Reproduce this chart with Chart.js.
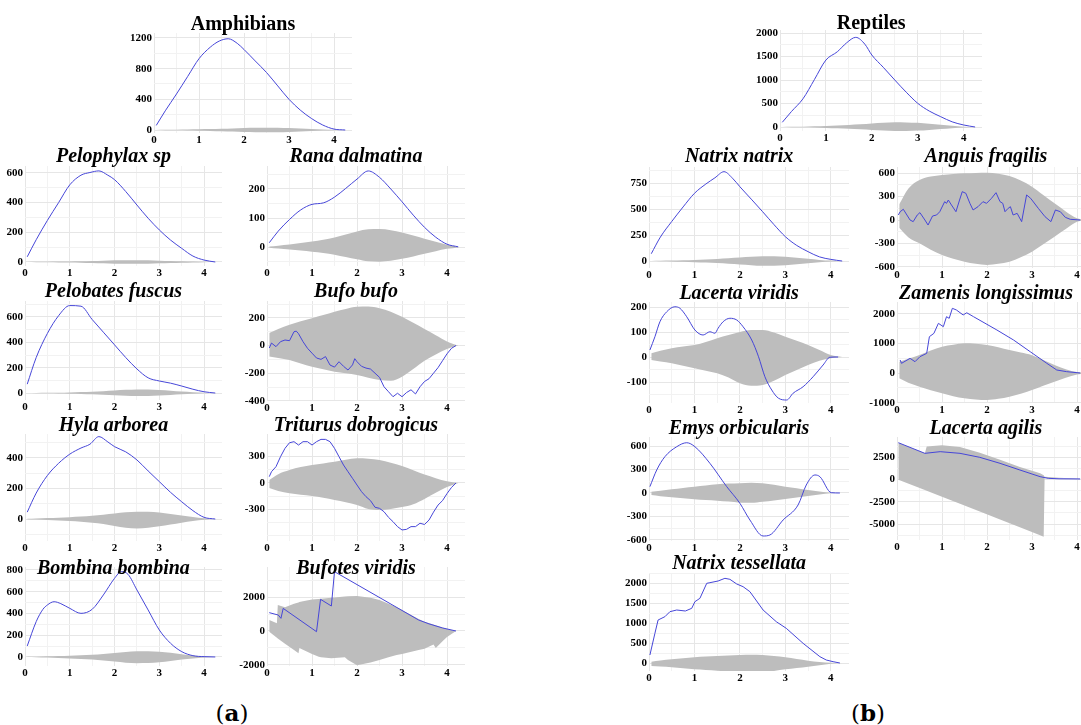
<!DOCTYPE html>
<html>
<head>
<meta charset="utf-8">
<script src="https://cdn.jsdelivr.net/npm/chart.js@4.4.1/dist/chart.umd.min.js"></script>
<style>
  html, body { margin: 0; padding: 0; background: #fff; overflow: hidden; }
  #fig { position: relative; width: 1081px; height: 725px; overflow: hidden; background: #fff; }
  #fig canvas { position: absolute; }
  .ptitle {
    position: absolute; text-align: center; white-space: nowrap; color: #000;
    font-family: "Liberation Serif", "Times New Roman", serif;
    font-weight: bold; font-style: italic; font-size: 20px; line-height: 24px;
  }
  .ptitle.group { font-style: normal; }
  .sublabel {
    position: absolute; width: 80px; text-align: center; color: #000;
    font-family: "DejaVu Serif", serif; font-size: 23px; line-height: 26px;
  }
</style>
</head>
<body>
<div id="fig"></div>
<script>
// sample grids (distance)
const xGrid = [0.05, 0.25, 0.5, 0.75, 1, 1.25, 1.5, 1.75, 2, 2.25, 2.5, 2.75, 3, 3.25, 3.5, 3.75, 4, 4.25];
const xPeak = [0.05, 0.25, 0.5, 0.75, 1, 1.25, 1.45, 1.65, 1.85, 2, 2.25, 2.5, 2.75, 3, 3.25, 3.5, 3.75, 4, 4.25];

// ---- Amphibians ----
const amphTicks = [0, 400, 800, 1200];
const amphLine = [60, 250, 470, 700, 930, 1080, 1160, 1190, 1130, 1050, 900, 750, 575, 400, 260, 150, 65, 12, 0];
const amphHi = [0, 2, 4, 7, 10, 13, 17, 21, 25, 28, 30, 29, 25, 19, 13, 7, 2, 0];
const amphLo = [0, -2, -4, -7, -10, -13, -17, -21, -25, -28, -30, -29, -25, -19, -13, -7, -2, 0];

const pelTicks = [0, 200, 400, 600];
const pelLine = [35, 150, 280, 400, 520, 585, 603, 614, 585, 555, 475, 384, 295, 216, 148, 92, 40, 13, 0];
const pelHi = [0, 1, 2, 3, 4, 5, 7, 9, 11, 12, 12, 11, 9, 7, 5, 3, 1, 0];
const pelLo = [0, -1, -2, -3, -4, -5, -7, -9, -11, -12, -12, -11, -9, -7, -5, -3, -1, 0];

const ranaTicks = [0, 100, 200];
const ranaLine = [15, 55, 95, 128, 147, 152, 172, 202, 234, 262, 240, 200, 156, 110, 68, 34, 10, 1];
const ranaHi = [2, 5, 9, 14, 19, 25, 33, 43, 54, 61, 62, 58, 50, 40, 29, 18, 8, 1];
const ranaLo = [-2, -5, -8, -12, -16, -20, -26, -34, -42, -49, -50, -47, -40, -32, -23, -14, -6, -1];

const pfTicks = [0, 200, 400, 600];
const pfLine = [70, 280, 470, 610, 690, 685, 580, 480, 380, 280, 190, 120, 95, 78, 55, 30, 10, 0];
const pfHi = [0, 1, 2, 3, 5, 8, 11, 15, 20, 25, 28, 28, 24, 18, 12, 7, 3, 0];
const pfLo = [0, -1, -2, -3, -5, -7, -10, -13, -17, -21, -23, -23, -20, -15, -10, -6, -2, 0];

const bufoTicks = [-400, -200, 0, 200];
const bufoLineX = [0.05, 0.1, 0.2, 0.3, 0.4, 0.5, 0.6, 0.65, 0.7, 0.8, 0.9, 1.0, 1.1, 1.2, 1.3, 1.4, 1.5, 1.6, 1.7, 1.8, 1.9, 1.95, 2.0, 2.1, 2.2, 2.3, 2.4, 2.5, 2.6, 2.7, 2.8, 2.9, 3.0, 3.1, 3.2, 3.3, 3.4, 3.5, 3.6, 3.7, 3.8, 3.9, 4.0, 4.1, 4.2];
const bufoLineY = [-18, 18, -8, 28, 40, 35, 100, 104, 86, 28, -20, -55, -90, -100, -80, -141, -156, -117, -150, -177, -140, -95, -117, -150, -163, -170, -200, -230, -298, -334, -370, -345, -370, -340, -320, -350, -298, -260, -240, -200, -160, -110, -60, -20, 0];
const bufoHi = [90, 120, 150, 175, 198, 220, 245, 265, 280, 282, 270, 245, 208, 165, 120, 75, 30, 0];
const bufoLo = [-80, -90, -105, -130, -153, -172, -189, -200, -213, -232, -250, -255, -225, -170, -110, -65, -25, 0];

const hylaTicks = [0, 200, 400];
const hylaLine = [45, 170, 285, 365, 425, 465, 490, 540, 505, 474, 440, 387, 315, 245, 175, 113, 55, 11, 0];
const hylaHi = [1, 3, 6, 9, 12, 16, 21, 28, 36, 44, 48, 47, 42, 33, 23, 13, 5, 0];
const hylaLo = [-1, -3, -6, -9, -13, -18, -24, -32, -45, -58, -62, -58, -48, -36, -24, -13, -5, 0];

const tritTicks = [-300, 0, 300];
const tritLineX = [0.05, 0.1, 0.2, 0.3, 0.4, 0.5, 0.6, 0.7, 0.8, 0.9, 1.0, 1.1, 1.2, 1.3, 1.4, 1.5, 1.6, 1.7, 1.8, 1.9, 2.0, 2.1, 2.2, 2.3, 2.4, 2.5, 2.6, 2.7, 2.8, 2.9, 3.0, 3.1, 3.2, 3.3, 3.4, 3.5, 3.6, 3.7, 3.8, 3.9, 4.0, 4.1, 4.2];
const tritLineY = [72, 128, 185, 298, 393, 456, 468, 430, 468, 468, 430, 468, 494, 494, 468, 393, 298, 204, 128, 53, -23, -98, -155, -200, -275, -287, -325, -389, -438, -494, -532, -525, -494, -494, -456, -470, -420, -330, -250, -200, -120, -50, 0];
const tritHi = [34, 100, 147, 180, 204, 222, 241, 262, 279, 275, 260, 230, 192, 145, 95, 55, 20, 0];
const tritLo = [-57, -90, -117, -133, -147, -168, -192, -218, -249, -294, -306, -295, -273, -240, -180, -110, -45, 0];

const bombTicks = [0, 200, 400, 600, 800];
const bombLineX = [0.05, 0.25, 0.4, 0.5, 0.65, 0.8, 1.0, 1.25, 1.5, 1.75, 2.0, 2.15, 2.3, 2.5, 2.75, 3.0, 3.25, 3.5, 3.75, 4.0, 4.25];
const bombLineY = [101, 325, 438, 478, 508, 490, 447, 401, 438, 570, 723, 784, 760, 616, 432, 248, 126, 49, 12, 3, 0];
const bombHi = [1, 3, 6, 9, 12, 16, 21, 28, 36, 45, 52, 53, 48, 38, 26, 14, 5, 0];
const bombLo = [-1, -3, -6, -9, -13, -18, -24, -32, -42, -52, -57, -56, -48, -36, -24, -13, -5, 0];

const bvTicks = [-2000, 0, 2000];
const bvLineX = [0.05, 0.25, 0.31, 0.36, 1.1, 1.19, 1.43, 1.5, 3.37, 3.6, 3.9, 4.2];
const bvLineY = [1080, 940, 745, 1330, -40, 1863, 1470, 3490, 647, 420, 180, 0];
const bvEnvX = [0.05, 0.22, 0.24, 0.4, 0.6, 0.7, 0.72, 0.8, 1.0, 1.15, 1.2, 1.43, 1.5, 1.73, 1.8, 2.0, 2.3, 2.5, 2.7, 2.88, 3.0, 3.37, 3.5, 3.7, 3.75, 3.9, 4.0, 4.2];
const bvHi = [650, 450, 1530, 1400, 1600, 1680, 1700, 1750, 1850, 1880, 1900, 1960, 1970, 2030, 2040, 2060, 1950, 1820, 1600, 1400, 1235, 700, 550, 380, 340, 200, 120, 0];
const bvLo = [-50, -400, -440, -750, -1120, -1314, -1000, -1100, -1350, -1510, -1540, -1608, -1590, -1550, -1700, -2020, -1860, -1700, -1550, -1410, -1350, -1118, -1050, -800, -1000, -600, -350, 0];

// ---- Reptiles ----
const reptTicks = [0, 500, 1000, 1500, 2000];
const reptLine = [100, 330, 600, 1010, 1425, 1602, 1790, 1908, 1760, 1532, 1270, 1000, 740, 504, 340, 220, 110, 43, 0];
const reptHi = [0, 3, 8, 14, 22, 32, 44, 58, 74, 90, 100, 98, 88, 70, 48, 26, 8, 0];
const reptLo = [0, -3, -7, -12, -19, -27, -37, -49, -62, -75, -85, -85, -77, -62, -43, -24, -8, 0];

const nnTicks = [0, 250, 500, 750];
const nnLine = [70, 230, 380, 520, 651, 740, 800, 859, 790, 714, 595, 474, 350, 234, 150, 90, 40, 16, 0];
const nnHi = [0, 2, 4, 7, 11, 15, 20, 26, 33, 40, 46, 45, 40, 31, 21, 11, 4, 0];
const nnLo = [0, -2, -4, -7, -11, -15, -20, -26, -33, -40, -46, -45, -40, -31, -21, -11, -4, 0];

const agTicks = [-600, -300, 0, 300, 600];
const agLineX = [0.03, 0.07, 0.14, 0.29, 0.36, 0.45, 0.51, 0.62, 0.69, 0.79, 0.88, 0.95, 1.06, 1.1, 1.14, 1.21, 1.31, 1.39, 1.45, 1.53, 1.62, 1.69, 1.8, 1.91, 1.99, 2.1, 2.2, 2.29, 2.35, 2.4, 2.47, 2.52, 2.58, 2.67, 2.77, 2.88, 2.97, 3.14, 3.29, 3.42, 3.52, 3.63, 3.74, 3.85, 4.07];
const agLineY = [64, 106, 137, 0, -21, 64, 94, 0, -64, 51, 64, 106, 234, 213, 255, 192, 106, 255, 362, 341, 213, 128, 170, 234, 213, 277, 349, 234, 213, 106, 149, 170, 64, 85, -21, 320, 277, 149, 42, -21, 128, 106, 34, 9, 0];
const agHi = [200, 400, 511, 555, 575, 588, 596, 600, 604, 590, 562, 505, 426, 320, 213, 110, 22, 0];
const agLo = [-100, -220, -298, -380, -447, -495, -532, -560, -575, -560, -532, -475, -404, -310, -213, -115, -22, 0];

const lvTicks = [-100, 0, 100, 200];
const lvLineX = [0.02, 0.13, 0.24, 0.39, 0.57, 0.68, 0.83, 1.01, 1.19, 1.34, 1.45, 1.52, 1.63, 1.78, 1.93, 2.07, 2.26, 2.41, 2.55, 2.7, 2.85, 3.03, 3.17, 3.39, 3.61, 3.83, 3.98, 4.16];
const lvLineY = [28, 81, 141, 181, 201, 195, 161, 108, 88, 101, 95, 115, 141, 155, 148, 121, 68, 1, -79, -132, -165, -172, -145, -119, -79, -32, -1, 0];
const lvHi = [15, 25, 35, 42, 48, 60, 75, 88, 100, 108, 108, 98, 81, 65, 48, 28, 8, 0];
const lvLo = [-12, -18, -25, -35, -45, -55, -65, -82, -105, -115, -112, -95, -72, -52, -32, -15, -5, 0];

const zmTicks = [-1000, 0, 1000, 2000];
const zmLineX = [0.07, 0.1, 0.29, 0.4, 0.51, 0.66, 0.72, 0.82, 0.92, 1.03, 1.1, 1.16, 1.23, 1.32, 1.47, 1.55, 1.7, 2.22, 2.59, 2.96, 3.33, 3.55, 3.77, 4.07];
const zmLineY = [438, 326, 494, 381, 550, 663, 1224, 1336, 1674, 1561, 1898, 1842, 2180, 2124, 1955, 2030, 1898, 1449, 1112, 718, 326, 101, 45, 0];
const zmHi = [381, 480, 607, 760, 888, 950, 1000, 990, 944, 870, 775, 690, 600, 440, 270, 130, 30, 0];
const zmLo = [-180, -330, -461, -580, -685, -780, -853, -890, -910, -870, -798, -700, -573, -430, -292, -160, -50, 0];

const emTicks = [-600, -300, 0, 300, 600];
const emLineX = [0.02, 0.17, 0.35, 0.61, 0.83, 1.01, 1.34, 1.71, 2.0, 2.22, 2.51, 2.66, 2.95, 3.28, 3.46, 3.65, 3.76, 4.01, 4.2];
const emLineY = [81, 294, 464, 591, 642, 591, 379, 81, -132, -345, -549, -536, -345, -153, 102, 230, 208, 4, 0];
const emHi = [17, 30, 47, 65, 81, 97, 111, 120, 124, 132, 124, 104, 81, 60, 38, 20, 4, 0];
const emLo = [-26, -40, -55, -68, -81, -90, -98, -110, -124, -126, -111, -95, -77, -58, -38, -18, -2, 0];

const laTicks = [-5000, -2500, 0, 2500];
const laLineX = [0.03, 0.62, 0.96, 1.4, 1.84, 2.29, 2.73, 3.18, 3.36, 3.6, 4.07];
const laLineY = [4121, 2930, 3117, 2930, 2482, 1810, 1064, 317, 131, 80, 60];
const laEnvX = [0.03, 0.62, 0.66, 1.0, 1.4, 1.84, 2.29, 2.73, 3.18, 3.26, 3.28, 3.6, 4.07];
const laHi = [4120, 2950, 3700, 3830, 3650, 3000, 2200, 1400, 700, 480, 300, 200, 80];
const laLo = [-20, -1185, -1264, -1936, -2726, -3594, -4483, -5352, -6241, -6400, 150, 100, 40];

const ntTicks = [0, 500, 1000, 1500, 2000];
const ntLineX = [0.02, 0.13, 0.2, 0.35, 0.46, 0.61, 0.8, 0.94, 1.01, 1.12, 1.27, 1.34, 1.52, 1.67, 1.78, 1.93, 2.07, 2.22, 2.51, 2.8, 3.02, 3.39, 3.76, 3.9, 4.05, 4.2];
const ntLineY = [200, 742, 1075, 1158, 1283, 1325, 1300, 1367, 1533, 1617, 1992, 2008, 2050, 2117, 2092, 1975, 1908, 1783, 1325, 1033, 867, 492, 158, 75, 33, 0];
const ntHi = [33, 60, 92, 118, 142, 160, 175, 188, 200, 205, 200, 175, 142, 100, 58, 28, 5, 0];
const ntLo = [-75, -90, -108, -132, -158, -175, -192, -205, -217, -232, -240, -200, -158, -125, -92, -55, -17, 0];

const xTicks = [0, 1, 2, 3, 4];

// layout of the panels (pixel boxes of the plot areas)
const panels = [
  { name: 'Amphibians', group: true, titleY: 23, x0: 154, unit: 45, top: 33, bottom: 133, yMin: -39, yMax: 1265, ticks: amphTicks, lineX: xPeak, lineY: amphLine, envX: xGrid, hi: amphHi, lo: amphLo, smooth: true },
  { name: 'Pelophylax sp', titleY: 155, x0: 25, unit: 44.75, top: 166, bottom: 266, yMin: -27, yMax: 647, ticks: pelTicks, lineX: xPeak, lineY: pelLine, envX: xGrid, hi: pelHi, lo: pelLo, smooth: true },
  { name: 'Rana dalmatina', titleY: 155, x0: 267, unit: 45, top: 166, bottom: 266, yMin: -65, yMax: 279, ticks: ranaTicks, lineX: xGrid, lineY: ranaLine, envX: xGrid, hi: ranaHi, lo: ranaLo, smooth: true },
  { name: 'Pelobates fuscus', titleY: 290, x0: 25, unit: 44.75, top: 301, bottom: 400, yMin: -55, yMax: 726, ticks: pfTicks, lineX: xGrid, lineY: pfLine, envX: xGrid, hi: pfHi, lo: pfLo, smooth: true },
  { name: 'Bufo bufo', titleY: 290, x0: 267, unit: 45, top: 301, bottom: 401, yMin: -401, yMax: 322, ticks: bufoTicks, lineX: bufoLineX, lineY: bufoLineY, envX: xGrid, hi: bufoHi, lo: bufoLo, smooth: false },
  { name: 'Hyla arborea', titleY: 424, x0: 25, unit: 44.75, top: 434, bottom: 541, yMin: -144, yMax: 557, ticks: hylaTicks, lineX: xPeak, lineY: hylaLine, envX: xGrid, hi: hylaHi, lo: hylaLo, smooth: true },
  { name: 'Triturus dobrogicus', titleY: 424, x0: 267, unit: 45, top: 434, bottom: 541, yMin: -657, yMax: 555, ticks: tritTicks, lineX: tritLineX, lineY: tritLineY, envX: xGrid, hi: tritHi, lo: tritLo, smooth: false },
  { name: 'Bombina bombina', titleY: 567, x0: 25, unit: 44.75, top: 567, bottom: 666, yMin: -83, yMax: 827, ticks: bombTicks, lineX: bombLineX, lineY: bombLineY, envX: xGrid, hi: bombHi, lo: bombLo, smooth: true },
  { name: 'Bufotes viridis', titleY: 567, x0: 267, unit: 45, top: 567, bottom: 666, yMin: -2059, yMax: 3765, ticks: bvTicks, lineX: bvLineX, lineY: bvLineY, envX: bvEnvX, hi: bvHi, lo: bvLo, smooth: false, jagged: true },
  { name: 'Reptiles', group: true, titleY: 22, x0: 780, unit: 46, top: 30, bottom: 131, yMin: -85, yMax: 2064, ticks: reptTicks, lineX: xPeak, lineY: reptLine, envX: xGrid, hi: reptHi, lo: reptLo, smooth: true },
  { name: 'Natrix natrix', titleY: 155, x0: 649, unit: 45.5, top: 167, bottom: 268, yMin: -67, yMax: 904, ticks: nnTicks, lineX: xPeak, lineY: nnLine, envX: xGrid, hi: nnHi, lo: nnLo, smooth: true },
  { name: 'Anguis fragilis', titleY: 155, x0: 897, unit: 45, top: 167, bottom: 268, yMin: -613, yMax: 677, ticks: agTicks, lineX: agLineX, lineY: agLineY, envX: xGrid, hi: agHi, lo: agLo, smooth: false },
  { name: 'Lacerta viridis', titleY: 292, x0: 649, unit: 45.5, top: 302, bottom: 403, yMin: -184, yMax: 220, ticks: lvTicks, lineX: lvLineX, lineY: lvLineY, envX: xGrid, hi: lvHi, lo: lvLo, smooth: true },
  { name: 'Zamenis longissimus', titleY: 292, x0: 897, unit: 45, top: 302, bottom: 403, yMin: -1011, yMax: 2393, ticks: zmTicks, lineX: zmLineX, lineY: zmLineY, envX: xGrid, hi: zmHi, lo: zmLo, smooth: false },
  { name: 'Emys orbicularis', titleY: 427, x0: 649, unit: 45.5, top: 437, bottom: 541, yMin: -613, yMax: 715, ticks: emTicks, lineX: emLineX, lineY: emLineY, envX: xGrid, hi: emHi, lo: emLo, smooth: true },
  { name: 'Lacerta agilis', titleY: 427, x0: 897, unit: 45, top: 437, bottom: 540, yMin: -6775, yMax: 4759, ticks: laTicks, lineX: laLineX, lineY: laLineY, envX: laEnvX, hi: laHi, lo: laLo, smooth: false, jagged: true },
  { name: 'Natrix tessellata', titleY: 562, x0: 649, unit: 45.5, top: 573, bottom: 671, yMin: -200, yMax: 2250, ticks: ntTicks, lineX: ntLineX, lineY: ntLineY, envX: xGrid, hi: ntHi, lo: ntLo, smooth: false }
];

const Y_AXIS_W = 34, X_AXIS_H = 16, PAD_T = 12, PAD_R = 4, X_MAX = 4.4;
const BLUE = '#4646d8', GREY = '#bdbdbd', GRID = '#e6e6e6', GRID_MINOR = '#f2f2f2';
const tickFont = { family: '"Liberation Serif", "Times New Roman", serif', size: 11, weight: 'bold' };

function pts(xs, ys) {
  return xs.map((x, i) => ({ x: x, y: ys[i] }));
}

// major ticks plus the half-step minor grid lines inside the range
function gridValues(major, min, max) {
  const half = (major[1] - major[0]) / 2;
  let v = major[0];
  while (v - half >= min) v -= half;
  const vals = [];
  for (; v <= max + 1e-9; v += half) vals.push(Math.round(v * 1000) / 1000);
  return vals;
}

const fig = document.getElementById('fig');

panels.forEach(p => {
  const plotW = X_MAX * p.unit;
  const W = Math.round(Y_AXIS_W + plotW + PAD_R);
  const H = Math.round(PAD_T + (p.bottom - p.top) + X_AXIS_H);

  const title = document.createElement('div');
  title.className = 'ptitle' + (p.group ? ' group' : '');
  title.textContent = p.name;
  title.style.left = (p.x0 - 20) + 'px';
  title.style.width = (plotW + 20) + 'px';
  title.style.top = (p.titleY - 12) + 'px';

  const canvas = document.createElement('canvas');
  canvas.width = W;
  canvas.height = H;
  canvas.style.left = (p.x0 - Y_AXIS_W) + 'px';
  canvas.style.top = (p.top - PAD_T) + 'px';
  canvas.style.width = W + 'px';
  canvas.style.height = H + 'px';
  fig.appendChild(canvas);
  fig.appendChild(title);

  const yVals = gridValues(p.ticks, p.yMin, p.yMax);
  const xVals = gridValues(xTicks, 0, X_MAX);

  new Chart(canvas.getContext('2d'), {
    type: 'line',
    data: {
      datasets: [
        {
          data: pts(p.lineX, p.lineY),
          borderColor: BLUE,
          borderWidth: 1,
          pointRadius: 0,
          fill: false,
          tension: 0,
          cubicInterpolationMode: p.smooth ? 'monotone' : 'default'
        },
        {
          data: pts(p.envX, p.hi),
          borderWidth: 0,
          borderColor: 'rgba(0,0,0,0)',
          backgroundColor: GREY,
          pointRadius: 0,
          fill: '+1',
          cubicInterpolationMode: p.jagged ? 'default' : 'monotone'
        },
        {
          data: pts(p.envX, p.lo),
          borderWidth: 0,
          borderColor: 'rgba(0,0,0,0)',
          pointRadius: 0,
          fill: false,
          cubicInterpolationMode: p.jagged ? 'default' : 'monotone'
        }
      ]
    },
    options: {
      responsive: false,
      animation: false,
      events: [],
      layout: { padding: { top: PAD_T, right: PAD_R, left: 0, bottom: 0 } },
      plugins: { legend: { display: false }, title: { display: false }, tooltip: { enabled: false } },
      scales: {
        x: {
          type: 'linear',
          min: 0,
          max: X_MAX,
          afterBuildTicks: axis => { axis.ticks = xVals.map(v => ({ value: v })); },
          afterFit: axis => { axis.height = X_AXIS_H; },
          border: { display: false },
          grid: {
            drawTicks: false,
            color: c => (c.tick && xTicks.includes(c.tick.value)) ? GRID : GRID_MINOR
          },
          ticks: {
            autoSkip: false,
            maxRotation: 0,
            padding: 1,
            color: '#000',
            font: tickFont,
            callback: v => xTicks.includes(v) ? String(v) : ''
          }
        },
        y: {
          min: p.yMin,
          max: p.yMax,
          afterBuildTicks: axis => { axis.ticks = yVals.map(v => ({ value: v })); },
          afterFit: axis => { axis.width = Y_AXIS_W; },
          border: { display: false },
          grid: {
            drawTicks: false,
            color: c => (c.tick && p.ticks.includes(c.tick.value)) ? GRID : GRID_MINOR
          },
          ticks: {
            autoSkip: false,
            padding: 2,
            color: '#000',
            font: tickFont,
            callback: v => p.ticks.includes(v) ? String(v) : ''
          }
        }
      }
    }
  });
});

// sub-figure labels
[['a', 232], ['b', 868]].forEach(([letter, cx]) => {
  const d = document.createElement('div');
  d.className = 'sublabel';
  d.style.left = (cx - 40) + 'px';
  d.style.top = (713 - 13) + 'px';
  d.innerHTML = '(<b>' + letter + '</b>)';
  fig.appendChild(d);
});
</script>
</body>
</html>
